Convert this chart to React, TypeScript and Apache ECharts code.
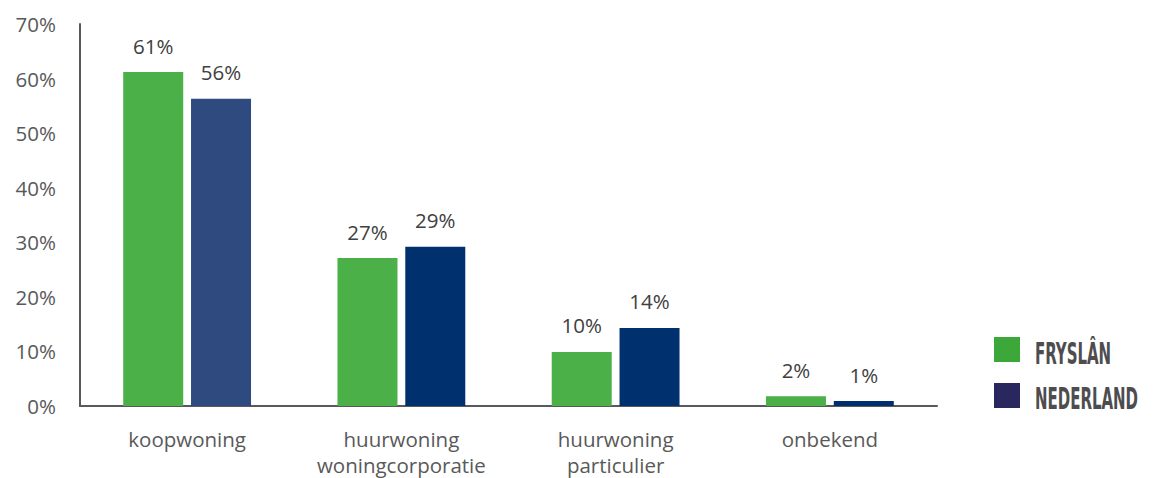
import React, { useEffect, useRef } from "react";
import * as echarts from "echarts";

const categories = ["koopwoning", "huurwoning\nwoningcorporatie", "huurwoning\nparticulier", "onbekend"];
const fryslanValues = [61.2, 27.1, 9.9, 1.8];
const nederlandValues = [56.3, 29.2, 14.3, 0.9];
const fryslanLabels = ["61%", "27%", "10%", "2%"];
const nederlandLabels = ["56%", "29%", "14%", "1%"];
const nederlandBarColors = ["#2E4A7E", "#00306E", "#00306E", "#002E6E"];
const seriesNames = ["FRYSLÂN", "NEDERLAND"];
const legendColors = ["#3DA83A", "#2A265E"];

export default function App() {
  const ref = useRef<HTMLDivElement>(null);
  useEffect(() => {
    if (!ref.current) return;
    const chart = echarts.init(ref.current, undefined, { renderer: "svg" });
    const font = "'Open Sans', 'Noto Sans', sans-serif";
    const labelCommon = {
      show: true,
      position: "top" as const,
      distance: 16,
      color: "#404040",
      fontFamily: font,
      fontSize: 20.5,
    };
    const legendFont = "bold 30px 'DejaVu Sans Condensed', 'Liberation Sans Narrow', sans-serif";
    chart.setOption({
      animation: false,
      grid: { left: 80, top: 24, width: 857, height: 383 },
      xAxis: {
        type: "category",
        data: categories,
        axisLine: { lineStyle: { color: "#595959", width: 2 } },
        axisTick: { show: false },
        axisLabel: {
          color: "#595959",
          fontFamily: font,
          fontSize: 20.5,
          margin: 20,
          lineHeight: 26,
          interval: 0,
        },
      },
      yAxis: {
        type: "value",
        min: 0,
        max: 70,
        interval: 10,
        splitLine: { show: false },
        axisLine: { show: true, lineStyle: { color: "#595959", width: 2 } },
        axisTick: { show: false },
        axisLabel: {
          formatter: "{value}%",
          color: "#595959",
          fontFamily: font,
          fontSize: 20.5,
          margin: 24,
        },
      },
      series: [
        {
          name: seriesNames[0],
          type: "bar",
          barWidth: 60,
          barGap: "13%",
          data: fryslanValues,
          itemStyle: { color: "#4BB048" },
          label: {
            ...labelCommon,
            formatter: (p: any) => fryslanLabels[p.dataIndex],
          },
        },
        {
          name: seriesNames[1],
          type: "bar",
          barWidth: 60,
          data: nederlandValues.map((v, i) => ({
            value: v,
            itemStyle: { color: nederlandBarColors[i] },
          })),
          label: {
            ...labelCommon,
            formatter: (p: any) => nederlandLabels[p.dataIndex],
          },
        },
      ],
      graphic: [
        { type: "rect", left: 994, top: 337, shape: { width: 26, height: 25 }, style: { fill: legendColors[0] } },
        { type: "rect", left: 994, top: 383, shape: { width: 26, height: 25 }, style: { fill: legendColors[1] } },
        {
          type: "text",
          x: 1035,
          y: 353,
          scaleX: 0.555,
          style: {
            text: seriesNames[0],
            fill: "#4D4D4F",
            font: legendFont,
            textVerticalAlign: "middle",
          },
        },
        {
          type: "text",
          x: 1035,
          y: 398,
          scaleX: 0.555,
          style: {
            text: seriesNames[1],
            fill: "#4D4D4F",
            font: legendFont,
            textVerticalAlign: "middle",
          },
        },
      ],
    });
    return () => chart.dispose();
  }, []);
  return (
    <div
      ref={ref}
      style={{ position: "absolute", left: 0, top: 0, width: 1156, height: 478, background: "#fff" }}
    />
  );
}
